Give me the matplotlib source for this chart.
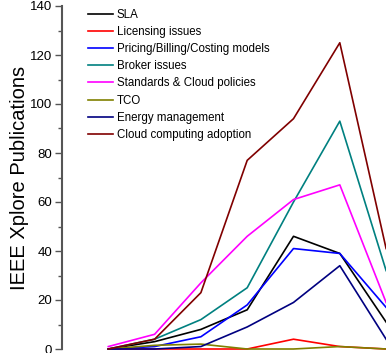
import matplotlib
matplotlib.use("Agg")
import matplotlib.pyplot as plt
from matplotlib.ticker import MultipleLocator

plt.rcParams['font.family'] = ['Liberation Sans', 'DejaVu Sans']

x = [0, 1, 2, 3, 4, 5, 6]
series_names = ["SLA", "Licensing issues", "Pricing/Billing/Costing models",
                "Broker issues", "Standards & Cloud policies", "TCO",
                "Energy management", "Cloud computing adoption"]
sla = [0, 3, 8, 16, 46, 39, 11]
licensing = [0, 0, 0, 0, 4, 1, 0]
pricing = [0, 1, 5, 18, 41, 39, 17]
broker = [0, 4, 12, 25, 60, 93, 32]
standards = [1, 6, 27, 46, 61, 67, 19]
tco = [0, 1.5, 2, 0, 0, 1, 0]
energy = [0, 0, 1, 9, 19, 34, 4]
adoption = [0, 4, 23, 77, 94, 125, 41]
colors = ["#000000", "#ff0000", "#0000ff", "#008080", "#ff00ff", "#808000", "#000080", "#800000"]

W, H = 386, 353
fig = plt.figure(figsize=(W / 100, H / 100), dpi=100)
ppu_y = 2.45
ppu_x = 46.3
ylo, yhi = -5, 140
xlo, xhi = -1, 6.5
top_px = 6
left_px = 62
ax_h = (yhi - ylo) * ppu_y
ax_w = (xhi - xlo) * ppu_x
ax = fig.add_axes([left_px / W, 1 - (top_px + ax_h) / H, ax_w / W, ax_h / H])

data = [sla, licensing, pricing, broker, standards, tco, energy, adoption]
for name, vals, c in zip(series_names, data, colors):
    ax.plot(x, vals, color=c, lw=1.2, label=name)

ax.set_xlim(xlo, xhi)
ax.set_ylim(ylo, yhi)
ax.yaxis.set_major_locator(MultipleLocator(20))
ax.yaxis.set_minor_locator(MultipleLocator(10))
ax.set_yticks(range(0, 141, 20))
for s in ["top", "right", "bottom"]:
    ax.spines[s].set_visible(False)
ax.spines["left"].set_bounds(0, 140)
ax.spines["left"].set_color("#555555")
ax.spines["left"].set_linewidth(1.5)
ax.tick_params(axis="y", which="major", length=5, width=1, color="#555555", labelsize=9.5, pad=2)
ax.tick_params(axis="y", which="minor", length=3, width=1, color="#555555")
ax.set_xticks([])
ax.set_ylabel("IEEE Xplore Publications", fontsize=14.5)
ax.yaxis.set_label_coords(-0.095, (70 - ylo) / (yhi - ylo))

leg = ax.legend(loc="upper left", bbox_to_anchor=(0.055, 1.012), frameon=False,
                fontsize=8.3, handlelength=2.2, handletextpad=0.3,
                labelspacing=0.45, borderaxespad=0.2)

fig.savefig("out.png", dpi=100)
